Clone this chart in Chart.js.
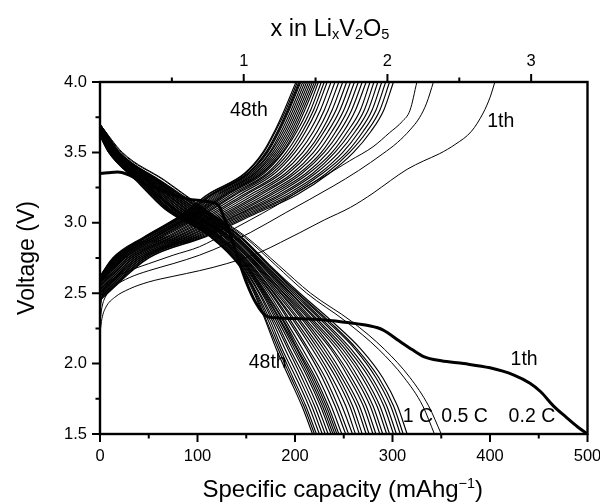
<!DOCTYPE html>
<html><head><meta charset="utf-8">
<script src="https://cdn.jsdelivr.net/npm/chart.js@4.4.0/dist/chart.umd.min.js"></script>
<style>html,body{margin:0;padding:0;background:#fff}#wrap{width:600px;height:503px}</style>
</head><body><div id="wrap"><canvas id="c" width="600" height="503"></canvas></div>
<script>
const FONT = '"Liberation Sans", Arial, Helvetica, sans-serif';

// ---- tick values ----
const capMajorTicks = [0, 100, 200, 300, 400, 500];
const capMinorTicks = [50, 150, 250, 350, 450];
const voltMajorTicks = [1.5, 2.0, 2.5, 3.0, 3.5, 4.0];
const voltMinorTicks = [1.75, 2.25, 2.75, 3.25, 3.75];
const liMajorTicks = [1, 2, 3];
const liMinorTicks = [0.5, 1.5, 2.5];
const capPerLi = 147.4; // mAh/g per Li in V2O5

// ---- discharge curves at 1 C (cycle 3 ... 48th): start voltage and capacity at each voltage level ----
const dischargeLevels = [3.5, 3.3, 3.1, 2.9, 2.7, 2.5, 2.3, 2.1, 1.9, 1.7, 1.5];
const discharge1CStartV = [3.70,3.70,3.69,3.69,3.69,3.69,3.68,3.68,3.68,3.67,3.67,3.67,3.67,3.66,3.66,3.66,3.65,3.65,3.65,3.64,3.64,3.64,3.64,3.64,3.64,3.63,3.63,3.63,3.63,3.62,3.62,3.62];
const discharge1CCaps = [
  [20,62,105,145,174,205,238,268,290,305,315],
  [20,61,103,144,173,203,235,264,286,301,311],
  [19,60,102,143,172,202,233,262,283,298,308],
  [19,59,101,141,170,200,230,258,279,294,304],
  [18,58,99,140,169,198,228,255,276,291,301],
  [18,57,98,139,168,196,225,252,272,287,297],
  [18,57,97,138,167,195,223,249,269,284,294],
  [17,56,95,137,166,193,220,246,265,280,290],
  [17,55,94,136,165,191,218,243,262,277,287],
  [16,54,92,134,163,189,216,239,258,273,283],
  [16,53,91,133,162,188,213,237,255,270,280],
  [16,52,89,132,161,186,211,233,251,266,276],
  [15,51,88,131,160,185,209,230,248,263,273],
  [15,50,87,130,159,183,206,227,245,259,269],
  [14,49,85,129,158,181,204,224,242,256,266],
  [14,48,84,128,156,179,201,221,238,252,262],
  [14,48,83,127,155,178,199,218,235,248,259],
  [13,47,81,125,154,176,196,214,231,244,255],
  [13,46,80,124,153,175,194,212,228,241,252],
  [12,45,78,123,152,173,191,208,224,237,248],
  [12,44,77,122,151,171,189,205,221,234,245],
  [12,43,76,121,150,170,188,203,219,232,243],
  [12,43,75,121,150,169,186,202,217,230,241],
  [11,42,74,120,149,168,185,200,215,228,239],
  [11,42,74,119,148,167,183,198,213,226,237],
  [11,41,72,118,147,166,181,195,210,223,234],
  [10,40,71,117,146,164,179,193,207,220,231],
  [10,40,70,116,145,163,177,190,204,217,228],
  [10,39,69,115,144,161,175,187,201,214,225],
  [9,38,68,114,143,160,173,185,198,211,222],
  [9,38,67,114,143,159,171,183,196,209,220],
  [9,37,66,113,142,158,170,181,194,207,218]
];
// ---- discharge curves at 0.5 C ----
const discharge05CStartV = [3.70, 3.70];
const discharge05CCaps = [
  [23,67,107,150,183,216,258,292,318,337,350],
  [22,66,106,148,180,212,252,286,312,331,343]
];
// ---- 1st discharge at 0.2 C (thick) ----
const firstDisCap = [0,8,18,28,38,48,60,75,90,105,115,122,127,132,140,150,160,170,180,200,230,256,275,290,307,320,332,350,373,400,424,441,452,465,478,490,500];
const firstDisV   = [3.35,3.355,3.36,3.345,3.31,3.27,3.24,3.2,3.17,3.155,3.145,3.12,3.04,2.95,2.78,2.58,2.43,2.34,2.325,2.32,2.31,2.29,2.27,2.24,2.16,2.1,2.05,2.02,2.0,1.97,1.92,1.86,1.8,1.7,1.62,1.55,1.5];

// ---- charge curves (bundle, up to 48th): start voltage and capacity at each voltage level ----
const chargeLevels = [2.75, 2.9, 3.05, 3.2, 3.35, 3.5, 3.65, 3.8, 4.0];
const chargeStartV = [2.45,2.46,2.46,2.47,2.48,2.48,2.49,2.50,2.50,2.51,2.52,2.52,2.53,2.54,2.55,2.55,2.56,2.57,2.57,2.58,2.58,2.58,2.59,2.59,2.59,2.60,2.60,2.61,2.61,2.61,2.61,2.62,2.62,2.62];
const chargeCaps = [
  [50,108,155,202,235,260,278,291,301],
  [49,106,152,198,232,256,274,287,297],
  [47,103,149,195,228,253,270,283,293],
  [46,100,146,191,225,249,266,279,289],
  [44,98,143,187,221,245,262,275,285],
  [43,95,140,184,218,241,258,271,281],
  [41,93,138,180,214,238,254,267,277],
  [40,90,135,176,211,234,250,262,273],
  [38,88,132,173,207,230,246,258,269],
  [37,85,129,169,204,227,242,254,265],
  [35,83,126,165,200,223,238,250,261],
  [34,80,123,162,197,219,234,246,257],
  [32,78,120,158,193,215,230,242,253],
  [31,75,117,154,190,212,227,238,249],
  [29,73,114,150,186,208,223,234,245],
  [28,70,111,147,183,204,219,230,241],
  [26,68,108,143,179,200,215,226,237],
  [25,65,105,139,176,197,211,222,233],
  [24,63,103,137,173,194,208,219,230],
  [23,61,101,134,171,191,205,216,227],
  [22,60,99,131,168,188,202,213,224],
  [21,58,97,129,166,187,200,210,222],
  [20,57,96,128,165,185,198,208,220],
  [19,56,94,126,163,183,196,206,218],
  [19,55,93,124,161,181,194,204,216],
  [18,53,92,122,159,179,192,202,214],
  [17,52,90,120,158,177,190,200,212],
  [16,51,89,118,156,175,188,198,210],
  [16,49,87,116,154,174,186,196,208],
  [15,48,86,115,152,172,184,194,206],
  [15,48,85,114,152,171,183,193,205],
  [14,47,84,113,151,170,182,192,204],
  [14,46,83,111,149,168,180,190.5,202.5],
  [13,45,82,110,148,167,179,189,201]
];
// ---- early charge curves (1th at 0.2 C, two at 0.5 C) ----
const charge1Cap = [0,2,6,15,30,50,75,102,130,164,185,205,230,257,280,298,315,332,348,365,381,393,400,405];
const charge1V   = [2.22,2.32,2.40,2.47,2.53,2.58,2.62,2.66,2.71,2.79,2.86,2.93,3.02,3.11,3.21,3.30,3.38,3.44,3.49,3.56,3.65,3.78,3.89,4.0];
const charge2Cap = [0,2,6,15,30,50,75,102,130,154,190,239,265,290,305,318,328,335,342];
const charge2V   = [2.30,2.40,2.48,2.55,2.61,2.66,2.71,2.77,2.85,2.93,3.07,3.26,3.37,3.49,3.57,3.66,3.75,3.85,4.0];
const charge3Cap = [0,2,6,15,30,50,75,102,130,154,180,205,230,256,280,297,310,318,325];
const charge3V   = [2.38,2.47,2.55,2.61,2.66,2.71,2.77,2.83,2.93,3.02,3.12,3.23,3.33,3.44,3.54,3.64,3.72,3.80,4.0];

// ---- text annotations (data coordinates) ----
const notes = [
  {text:'48th', cap:152.7, v:3.80},
  {text:'1th', cap:411, v:3.72},
  {text:'48th', cap:172, v:2.005},
  {text:'1th', cap:435, v:2.03},
  {text:'1 C', cap:326, v:1.62},
  {text:'0.5 C', cap:374, v:1.62},
  {text:'0.2 C', cap:443, v:1.62}
];

// ---- build datasets ----
function fromLevels(startV, levels, caps) {
  const pts = [{x:0, y:startV}];
  caps.forEach((c, i) => pts.push({x:c, y:levels[i]}));
  return pts;
}
function fromPairs(caps, volts) { return caps.map((c, i) => ({x:c, y:volts[i]})); }
const line = (d, w) => ({data:d, borderColor:'#000', borderWidth:w, pointRadius:0, fill:false, cubicInterpolationMode:'monotone'});
const datasets = [];
chargeCaps.forEach((c, i) => datasets.push(line(fromLevels(chargeStartV[i], chargeLevels, c), 1.15)));
datasets.push(line(fromPairs(charge3Cap, charge3V), 1));
datasets.push(line(fromPairs(charge2Cap, charge2V), 1));
datasets.push(line(fromPairs(charge1Cap, charge1V), 1));
discharge1CCaps.forEach((c, i) => datasets.push(line(fromLevels(discharge1CStartV[i], dischargeLevels, c), 1.15)));
discharge05CCaps.forEach((c, i) => datasets.push(line(fromLevels(discharge05CStartV[i], dischargeLevels, c), 1)));
datasets.push(line(fromPairs(firstDisCap, firstDisV), 3));

function drawRich(ctx, parts, cx, baseline, size) {
  let w = 0;
  parts.forEach(p => { ctx.font = (p.s ? size * p.s : size) + 'px ' + FONT; p.w = ctx.measureText(p.t).width; w += p.w; });
  let x = cx - w / 2;
  ctx.textAlign = 'left'; ctx.textBaseline = 'alphabetic';
  parts.forEach(p => { ctx.font = (p.s ? size * p.s : size) + 'px ' + FONT; ctx.fillText(p.t, x, baseline + (p.dy || 0)); x += p.w; });
}

const decor = {
  id: 'decor',
  afterDatasetsDraw(chart) {
    const {ctx, chartArea: a, scales} = chart;
    ctx.save();
    ctx.strokeStyle = '#000';
    ctx.fillStyle = '#000';
    ctx.lineWidth = 2.4;
    ctx.strokeRect(a.left, a.top, a.right - a.left, a.bottom - a.top);
    ctx.lineWidth = 2;
    ctx.beginPath();
    const hTicks = (scale, vals, y0, len) => vals.forEach(v => { const x = scale.getPixelForValue(v); ctx.moveTo(x, y0); ctx.lineTo(x, y0 + len); });
    const vTicks = (scale, vals, x0, len) => vals.forEach(v => { const y = scale.getPixelForValue(v); ctx.moveTo(x0, y); ctx.lineTo(x0 + len, y); });
    hTicks(scales.x, capMajorTicks, a.bottom, 8);
    hTicks(scales.x, capMinorTicks, a.bottom, 4.5);
    hTicks(scales.x2, liMajorTicks, a.top, -8);
    hTicks(scales.x2, liMinorTicks, a.top, -4.5);
    vTicks(scales.y, voltMajorTicks, a.left, -8);
    vTicks(scales.y, voltMinorTicks, a.left, -4.5);
    ctx.stroke();
    // annotations
    ctx.font = '19.5px ' + FONT;
    ctx.textAlign = 'center'; ctx.textBaseline = 'middle';
    notes.forEach(n => ctx.fillText(n.text, scales.x.getPixelForValue(n.cap), scales.y.getPixelForValue(n.v)));
    // bottom axis title with superscript
    const cx = (a.left + a.right) / 2;
    drawRich(ctx, [{t:'Specific capacity (mAhg'}, {t:'\u22121', s:0.6, dy:-9}, {t:')'}], cx - 1, 497, 24);
    // top axis title with subscripts
    drawRich(ctx, [{t:'x in Li'}, {t:'x', s:0.62, dy:3}, {t:'V'}, {t:'2', s:0.62, dy:3}, {t:'O'}, {t:'5', s:0.62, dy:3}], 330, 36, 23.5);
    ctx.restore();
  }
};

const noPad = s => { s.paddingLeft = 0; s.paddingRight = 0; };
const tickFont = {family: FONT, size: 16.5};
new Chart(document.getElementById('c'), {
  type: 'line',
  data: {datasets},
  options: {
    responsive: false, animation: false, devicePixelRatio: 1,
    layout: {padding: {left: 0, right: 12.5, top: 0, bottom: 0}},
    plugins: {legend: {display: false}, tooltip: {enabled: false}},
    scales: {
      x: {type: 'linear', position: 'bottom', min: 0, max: 500,
          afterBuildTicks: s => { s.ticks = capMajorTicks.map(v => ({value: v})); },
          ticks: {font: tickFont, color: '#000', padding: 13, maxRotation: 0, autoSkip: false},
          grid: {display: false, drawTicks: false}, border: {display: false},
          afterFit: s => { s.height = 69; noPad(s); }},
      x2: {type: 'linear', position: 'top', min: 0, max: 500 / capPerLi,
          afterBuildTicks: s => { s.ticks = liMajorTicks.map(v => ({value: v})); },
          ticks: {font: tickFont, color: '#000', padding: 10.4, maxRotation: 0, autoSkip: false, callback: v => String(v)},
          grid: {display: false, drawTicks: false}, border: {display: false},
          afterFit: s => { s.height = 82; noPad(s); }},
      y: {type: 'linear', position: 'left', min: 1.5, max: 4.0,
          afterBuildTicks: s => { s.ticks = voltMajorTicks.map(v => ({value: v})); },
          ticks: {font: tickFont, color: '#000', padding: 13, callback: v => Number(v).toFixed(1)},
          grid: {display: false, drawTicks: false}, border: {display: false},
          title: {display: true, text: 'Voltage (V)', color: '#000', font: {family: FONT, size: 23}, padding: {top: 14, bottom: 0}},
          afterFit: s => { s.width = 100; s.paddingTop = 0; s.paddingBottom = 0; }}
    }
  },
  plugins: [decor]
});
</script>
</body></html>
